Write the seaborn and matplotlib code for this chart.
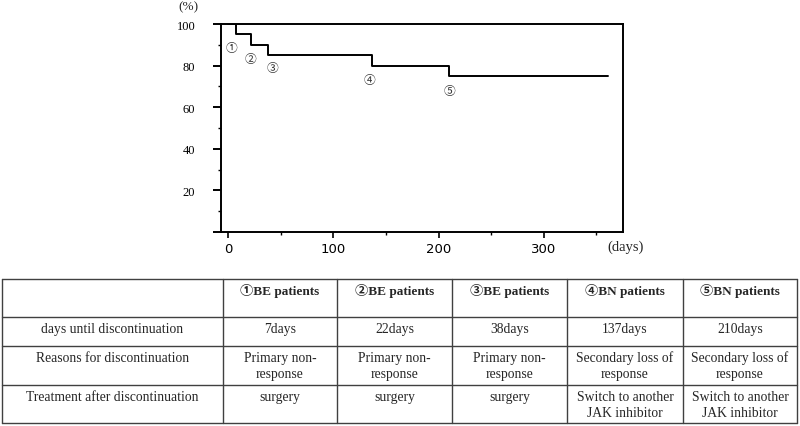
import matplotlib
matplotlib.use("Agg")
import matplotlib.pyplot as plt
import pandas as pd
import seaborn as sns

# Kaplan-Meier style continuation curve
event_days = [0, 7, 22, 38, 137, 210, 361]
continuation = [100, 95, 90, 85, 80, 75, 75]

# circled markers placed near each drop
marker_labels = ["①", "②", "③", "④", "⑤"]
marker_days = [3, 21, 42, 134, 210]
marker_pct = [88.5, 83.5, 79, 73.5, 68]

# axis ticks
x_major = [0, 100, 200, 300]
x_minor = [50, 150, 250, 350]
y_major = [0, 20, 40, 60, 80, 100]
y_major_labels = ["", "20", "40", "60", "80", "100"]
y_minor = [10, 30, 50, 70, 90]

# table contents
col_headers = ["", "①BE patients", "②BE patients", "③BE patients", "④BN patients", "⑤BN patients"]
row_labels = ["days until discontinuation", "Reasons for discontinuation", "Treatment after discontinuation"]
days_row = ["7days", "22days", "38days", "137days", "210days"]
reason_row = ["Primary non-\nresponse", "Primary non-\nresponse", "Primary non-\nresponse",
              "Secondary loss of\nresponse", "Secondary loss of\nresponse"]
treatment_row = ["surgery", "surgery", "surgery",
                 "Switch to another\nJAK inhibitor", "Switch to another\nJAK inhibitor"]

sns.set_style("white")
serif = ["Liberation Serif", "Noto Sans CJK JP"]

W, H = 800, 427
fig = plt.figure(figsize=(W / 100, H / 100), dpi=100)

# ---- curve ----
ax = fig.add_axes([221 / W, 1 - 233 / H, (623 - 221) / W, (233 - 25) / H])
df = pd.DataFrame({"day": event_days, "pct": continuation})
sns.lineplot(data=df, x="day", y="pct", drawstyle="steps-post", color="black", lw=1.4, ax=ax)
for lab, d, p in zip(marker_labels, marker_days, marker_pct):
    ax.text(d, p, lab, ha="center", va="center", fontsize=8.5, color="#333333",
            family=["Noto Sans CJK JP", "DejaVu Sans"])

ax.set_xlim(-7, 375.5)
ax.set_ylim(0, 100)
ax.set_xticks(x_major)
ax.set_xticks(x_minor, minor=True)
ax.set_yticks(y_major)
ax.set_yticklabels(y_major_labels)
ax.set_yticks(y_minor, minor=True)
ax.set_xlabel("")
ax.set_ylabel("")
for s in ax.spines.values():
    s.set_color("black")
    s.set_linewidth(1.4)
    s.set_visible(True)
ax.tick_params(axis="both", which="both", direction="out", colors="black")
ax.tick_params(axis="x", which="major", bottom=True, length=4, width=1.2, pad=3)
ax.tick_params(axis="x", which="minor", bottom=True, length=2, width=1.0)
ax.tick_params(axis="y", which="major", left=True, length=5.5, width=1.4, pad=13)
ax.tick_params(axis="y", which="minor", left=True, length=2.5, width=1.0)
for t in ax.get_xticklabels():
    t.set_fontfamily("DejaVu Sans")
    t.set_fontsize(9.5)
for t in ax.get_yticklabels():
    t.set_fontfamily(serif)
    t.set_fontsize(9)

# ---- overlay in pixel coordinates for labels and table ----
ov = fig.add_axes([0, 0, 1, 1], zorder=-1)
ov.set_xlim(0, W)
ov.set_ylim(H, 0)
ov.axis("off")

ov.text(188, 7, "(%)", ha="center", va="center", fontsize=9.5, family=serif)
ov.text(626, 247, "(days)", ha="center", va="center", fontsize=10.5, family=serif)

col_x = [2, 223, 337, 452, 567, 683, 797]
row_y = [280, 318, 347, 386, 424]
line_kw = dict(color="#404040", lw=1.0)
for x in col_x:
    ov.plot([x, x], [row_y[0], row_y[-1]], **line_kw)
for y in row_y:
    ov.plot([col_x[0], col_x[-1]], [y, y], **line_kw)

def cell_text(ci, ri, txt, bold=False):
    cx = (col_x[ci] + col_x[ci + 1]) / 2
    top = row_y[ri] + 11.5
    for k, line in enumerate(txt.split("\n")):
        ov.text(cx, top + 16 * k, line, ha="center", va="center",
                fontsize=9.5 if bold else 9.8,
                family=serif, fontweight="bold" if bold else "normal")

for ci, h in enumerate(col_headers):
    if h:
        cell_text(ci, 0, h, bold=True)
for ri, lab in enumerate(row_labels):
    cell_text(0, ri + 1, lab)
for ci in range(5):
    cell_text(ci + 1, 1, days_row[ci])
    cell_text(ci + 1, 2, reason_row[ci])
    cell_text(ci + 1, 3, treatment_row[ci])

fig.savefig("out.png", dpi=100)
